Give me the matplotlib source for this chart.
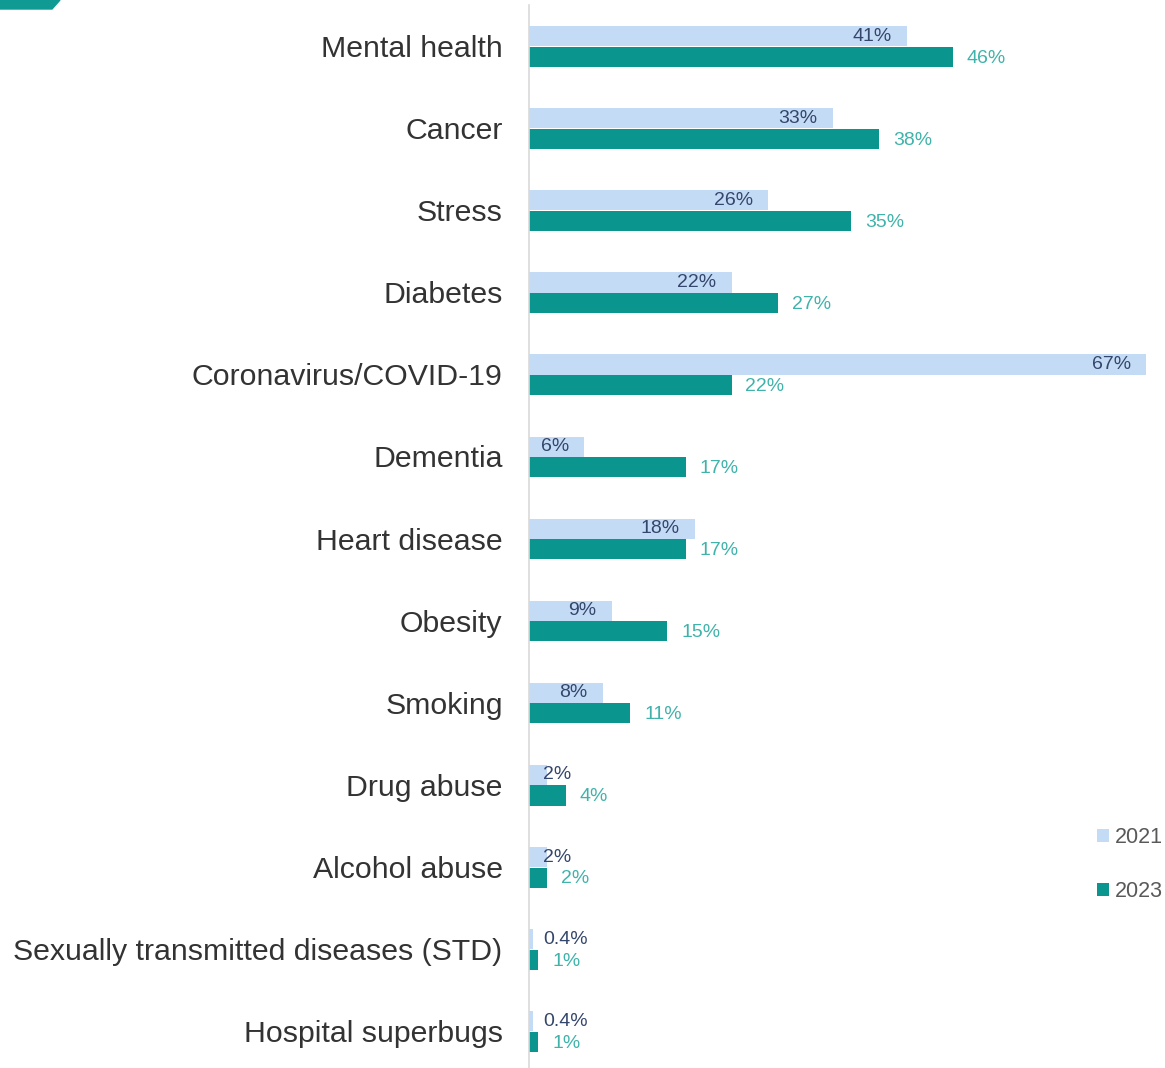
import matplotlib
matplotlib.use('Agg')
import matplotlib.pyplot as plt
from matplotlib.patches import Polygon

plt.rcParams['font.family'] = ['Liberation Sans', 'DejaVu Sans']

categories = ['Mental health', 'Cancer', 'Stress', 'Diabetes', 'Coronavirus/COVID-19',
              'Dementia', 'Heart disease', 'Obesity', 'Smoking', 'Drug abuse',
              'Alcohol abuse', 'Sexually transmitted diseases (STD)', 'Hospital superbugs']
vals_2021 = [41, 33, 26, 22, 67, 6, 18, 9, 8, 2, 2, 0.4, 0.4]
vals_2023 = [46, 38, 35, 27, 22, 17, 17, 15, 11, 4, 2, 1, 1]
labels_2021 = ['41%', '33%', '26%', '22%', '67%', '6%', '18%', '9%', '8%', '2%', '2%', '0.4%', '0.4%']
labels_2023 = ['46%', '38%', '35%', '27%', '22%', '17%', '17%', '15%', '11%', '4%', '2%', '1%', '1%']

c21 = '#c4dbf6'
c23 = '#0b958f'
W, H = 1165, 1068

fig = plt.figure(figsize=(W / 100, H / 100), dpi=100)
ax = fig.add_axes([529 / W, 0.0, (1146 - 529) / W, 1 - 5 / H])

ypos = list(range(len(categories)))
bh = 0.245
y21 = [y - 0.12 for y in ypos]
y23 = [y + 0.13 for y in ypos]
ax.barh(y21, vals_2021, height=bh, color=c21, label='2021')
ax.barh(y23, vals_2023, height=bh, color=c23, label='2023')

for y, v, t in zip(y21, vals_2021, labels_2021):
    if v >= 5:
        ax.annotate(t, (v, y), xytext=(-11, 0), textcoords='offset points',
                    ha='right', va='center', fontsize=14, color='#34466b')
    else:
        ax.annotate(t, (0, y), xytext=(10, 0), textcoords='offset points',
                    ha='left', va='center', fontsize=14, color='#34466b')
for y, v, t in zip(y23, vals_2023, labels_2023):
    ax.annotate(t, (v, y), xytext=(10, -1), textcoords='offset points',
                ha='left', va='center', fontsize=14, color='#3fb3aa')

ax.set_xlim(0, 67)
ax.set_ylim(12.45, -0.5)
ax.set_yticks(ypos)
ax.set_yticklabels(categories, fontsize=21.8, color='#333333')
ax.tick_params(axis='y', length=0, pad=19)
ax.set_xticks([])
for s in ['top', 'right', 'bottom']:
    ax.spines[s].set_visible(False)
ax.spines['left'].set_color('#d9d9d9')
ax.spines['left'].set_linewidth(1.2)

leg = fig.legend(loc='upper left', bbox_to_anchor=(1078 / W, 1 - 808 / H), frameon=False,
                 fontsize=15.5, labelcolor='#595959', handlelength=0.55, handleheight=0.55,
                 handletextpad=0.25, labelspacing=1.5)

# teal corner decoration
fig.patches.append(Polygon([[0, 1], [60 / W, 1], [52 / W, 1 - 9 / H], [0, 1 - 9 / H]],
                           closed=True, transform=fig.transFigure, color='#0f9a94'))

fig.savefig('out.png', dpi=100)
